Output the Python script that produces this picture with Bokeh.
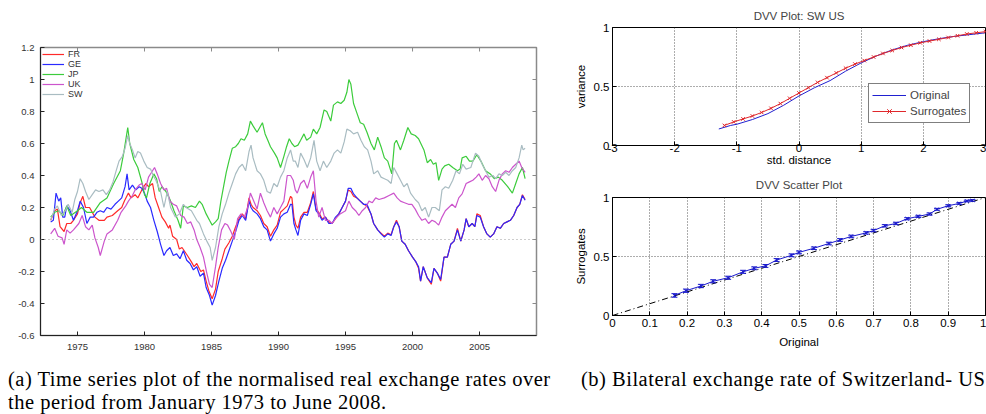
from bokeh.plotting import figure
from bokeh.layouts import row, column
from bokeh.models import (FixedTicker, Legend, LegendItem, Div, Range1d, Span)
from bokeh.embed import file_html
from bokeh.resources import INLINE

# ---------------- (a) normalised real exchange rates ----------------
fr_year = [1973.0, 1973.3, 1973.5, 1973.7, 1974.0, 1974.2, 1974.5, 1974.7, 1975.0, 1975.2, 1975.4, 1975.6,
           1975.9, 1976.1, 1976.3, 1976.6, 1977.0, 1977.2, 1977.6, 1978.0, 1978.3, 1978.5, 1978.8, 1979.0,
           1979.3, 1979.5, 1979.8, 1980.1, 1980.3, 1980.6, 1980.8, 1981.05, 1981.3, 1981.55, 1981.8, 1981.9,
           1982.1, 1982.4, 1982.6, 1982.8, 1983.2, 1983.5, 1983.7, 1983.9, 1984.2, 1984.4, 1984.6, 1984.8,
           1985.05, 1985.3, 1985.5, 1985.8, 1986.0, 1986.3, 1986.55, 1986.8, 1987.05, 1987.3, 1987.55, 1987.8,
           1987.95, 1988.1, 1988.4, 1988.65, 1988.9, 1989.15, 1989.4, 1989.65, 1989.9, 1990.15, 1990.4, 1990.65,
           1990.9, 1991.0, 1991.15, 1991.3, 1991.45, 1991.65, 1991.9, 1992.15, 1992.4, 1992.6, 1992.8, 1993.0,
           1993.25, 1993.5, 1993.75, 1994.0, 1994.25, 1994.5, 1994.75, 1995.0, 1995.2, 1995.4, 1995.6, 1995.85,
           1996.1, 1996.35, 1996.6, 1996.9, 1997.1, 1997.4, 1997.65, 1997.9, 1998.15, 1998.4, 1998.6, 1998.8,
           1999.0, 1999.2, 1999.45, 1999.7, 2000.0, 2000.25, 2000.45, 2000.6, 2000.8, 2001.1, 2001.4, 2001.6,
           2001.85, 2002.1, 2002.35, 2002.6, 2002.85, 2003.1, 2003.35, 2003.6, 2003.85, 2004.0, 2004.2, 2004.45,
           2004.65, 2004.8, 2005.05, 2005.3, 2005.55, 2005.8, 2006.05, 2006.3, 2006.55, 2006.8, 2007.05, 2007.3,
           2007.55, 2007.8, 2008.0, 2008.2, 2008.4]
fr_value = [0.12, 0.18, 0.19, 0.08, 0.05, 0.10, 0.10, 0.12, 0.16, 0.23, 0.27, 0.20,
            0.20, 0.17, 0.14, 0.12, 0.12, 0.14, 0.15, 0.18, 0.20, 0.24, 0.29, 0.26,
            0.28, 0.26, 0.31, 0.35, 0.33, 0.35, 0.26, 0.20, 0.14, 0.11, 0.07, 0.09,
            0.02, 0.00, -0.06, -0.05, -0.10, -0.14, -0.17, -0.15, -0.20, -0.19, -0.26, -0.32,
            -0.37, -0.31, -0.20, -0.12, -0.06, -0.02, 0.02, 0.08, 0.13, 0.16, 0.13, 0.26,
            0.22, 0.20, 0.18, 0.15, 0.10, 0.08, 0.02, 0.06, 0.09, 0.17, 0.19, 0.21,
            0.27, 0.26, 0.14, 0.09, 0.07, 0.14, 0.17, 0.17, 0.23, 0.30, 0.19, 0.17,
            0.13, 0.14, 0.11, 0.10, 0.13, 0.16, 0.20, 0.24, 0.31, 0.30, 0.27, 0.26,
            0.24, 0.22, 0.21, 0.16, 0.10, 0.06, 0.04, 0.02, 0.04, 0.03, 0.08, 0.12,
            0.08, -0.01, -0.03, -0.07, -0.11, -0.14, -0.18, -0.26, -0.17, -0.24, -0.28, -0.18,
            -0.21, -0.26, -0.11, -0.11, -0.03, -0.01, 0.07, -0.01, 0.06, 0.13, 0.08, 0.10,
            0.08, 0.16, 0.15, 0.08, 0.035, 0.015, 0.035, 0.08, 0.07, 0.10, 0.11, 0.12,
            0.15, 0.20, 0.22, 0.28, 0.25]

ge_year = [1973.0, 1973.2, 1973.4, 1973.6, 1973.75, 1973.9, 1974.05, 1974.2, 1974.45, 1974.7, 1975.0, 1975.2,
           1975.45, 1975.7, 1975.95, 1976.2, 1976.45, 1976.7, 1976.95, 1977.2, 1977.5, 1977.8, 1978.05, 1978.3,
           1978.55, 1978.7, 1978.85, 1979.1, 1979.35, 1979.6, 1979.8, 1980.0, 1980.2, 1980.45, 1980.7, 1980.95,
           1981.2, 1981.45, 1981.65, 1981.9, 1982.15, 1982.4, 1982.65, 1982.9, 1983.15, 1983.4, 1983.65, 1983.9,
           1984.15, 1984.4, 1984.6, 1984.85, 1985.05, 1985.3, 1985.55, 1985.8, 1986.05, 1986.3, 1986.55, 1986.8,
           1987.05, 1987.3, 1987.55, 1987.8, 1987.95, 1988.1, 1988.4, 1988.65, 1988.9, 1989.15, 1989.4, 1989.65,
           1989.9, 1990.15, 1990.4, 1990.65, 1990.9, 1991.0, 1991.15, 1991.3, 1991.45, 1991.65, 1991.9, 1992.15,
           1992.4, 1992.6, 1992.8, 1993.0, 1993.25, 1993.5, 1993.75, 1994.0, 1994.25, 1994.5, 1994.75, 1995.0,
           1995.2, 1995.4, 1995.6, 1995.85, 1996.1, 1996.35, 1996.6, 1996.9, 1997.1, 1997.4, 1997.65, 1997.9,
           1998.15, 1998.4, 1998.6, 1998.8, 1999.0, 1999.2, 1999.45, 1999.7, 2000.0, 2000.25, 2000.45, 2000.6,
           2000.8, 2001.1, 2001.4, 2001.6, 2001.85, 2002.1, 2002.35, 2002.6, 2002.85, 2003.1, 2003.35, 2003.6,
           2003.85, 2004.0, 2004.2, 2004.45, 2004.65, 2004.8, 2005.05, 2005.3, 2005.55, 2005.8, 2006.05, 2006.3,
           2006.55, 2006.8, 2007.05, 2007.3, 2007.55, 2007.8, 2008.0, 2008.2, 2008.4]
ge_value = [0.11, 0.12, 0.29, 0.24, 0.26, 0.14, 0.14, 0.21, 0.18, 0.12, 0.18, 0.24,
            0.20, 0.10, 0.14, 0.14, 0.17, 0.18, 0.17, 0.20, 0.19, 0.22, 0.24, 0.26,
            0.33, 0.41, 0.31, 0.34, 0.31, 0.33, 0.32, 0.29, 0.24, 0.20, 0.12, 0.05,
            -0.03, -0.10, -0.07, -0.05, -0.10, -0.09, -0.12, -0.07, -0.13, -0.15, -0.19, -0.17,
            -0.23, -0.21, -0.30, -0.35, -0.41, -0.35, -0.26, -0.18, -0.13, -0.07, -0.01, 0.05,
            0.12, 0.15, 0.12, 0.24, 0.20, 0.18, 0.16, 0.13, 0.08, 0.06, -0.01, 0.035,
            0.07, 0.14, 0.16, 0.17, 0.22, 0.22, 0.10, 0.06, 0.025, 0.12, 0.16, 0.15,
            0.22, 0.285, 0.18, 0.16, 0.12, 0.14, 0.10, 0.10, 0.14, 0.16, 0.20, 0.24,
            0.32, 0.32, 0.285, 0.26, 0.24, 0.22, 0.22, 0.16, 0.10, 0.06, 0.035, 0.015,
            0.035, 0.025, 0.08, 0.11, 0.08, -0.01, -0.03, -0.07, -0.11, -0.14, -0.17, -0.26,
            -0.17, -0.24, -0.27, -0.18, -0.21, -0.25, -0.11, -0.11, -0.03, -0.01, 0.06, -0.01,
            0.06, 0.13, 0.08, 0.10, 0.08, 0.15, 0.14, 0.08, 0.035, 0.015, 0.035, 0.08,
            0.07, 0.10, 0.11, 0.12, 0.15, 0.20, 0.22, 0.275, 0.245]

jp_year = [1973.0, 1973.3, 1973.6, 1973.9, 1974.2, 1974.5, 1975.0, 1975.3, 1975.7, 1976.2, 1976.7, 1977.2,
           1977.7, 1978.2, 1978.45, 1978.6, 1978.75, 1978.9, 1979.2, 1979.5, 1979.8, 1980.0, 1980.15, 1980.4,
           1980.7, 1980.9, 1981.1, 1981.3, 1981.6, 1981.9, 1982.2, 1982.5, 1982.7, 1982.9, 1983.2, 1983.5,
           1983.8, 1984.1, 1984.3, 1984.6, 1984.85, 1985.05, 1985.3, 1985.5, 1985.7, 1985.9, 1986.1, 1986.3,
           1986.55, 1986.8, 1987.0, 1987.2, 1987.45, 1987.7, 1987.9, 1988.1, 1988.4, 1988.6, 1988.8, 1989.0,
           1989.2, 1989.4, 1989.7, 1989.9, 1990.15, 1990.4, 1990.6, 1990.8, 1991.0, 1991.2, 1991.45, 1991.65,
           1991.9, 1992.1, 1992.4, 1992.6, 1992.85, 1993.1, 1993.4, 1993.6, 1993.9, 1994.1, 1994.4, 1994.65,
           1994.9, 1995.1, 1995.25, 1995.4, 1995.6, 1995.85, 1996.1, 1996.35, 1996.6, 1996.9, 1997.15, 1997.4,
           1997.65, 1997.9, 1998.15, 1998.45, 1998.65, 1998.8, 1999.1, 1999.35, 1999.65, 1999.9, 2000.2, 2000.45,
           2000.85, 2001.1, 2001.35, 2001.55, 2001.75, 2001.95, 2002.2, 2002.4, 2002.7, 2003.0, 2003.35, 2003.55,
           2003.7, 2004.0, 2004.25, 2004.5, 2004.8, 2005.1, 2005.45, 2005.8, 2006.1, 2006.4, 2006.7, 2007.1,
           2007.45, 2007.7, 2007.95, 2008.2, 2008.4]
jp_value = [0.14, 0.17, 0.18, 0.15, 0.21, 0.15, 0.18, 0.20, 0.17, 0.17, 0.23, 0.26,
            0.35, 0.43, 0.54, 0.62, 0.70, 0.60, 0.50, 0.45, 0.36, 0.28, 0.26, 0.35,
            0.41, 0.38, 0.30, 0.33, 0.30, 0.25, 0.18, 0.12, 0.07, 0.21, 0.20, 0.21,
            0.20, 0.24, 0.22, 0.16, 0.12, 0.09, 0.11, 0.13, 0.24, 0.33, 0.42, 0.49,
            0.57, 0.58, 0.60, 0.63, 0.62, 0.66, 0.74, 0.71, 0.67, 0.70, 0.73, 0.66,
            0.62, 0.58, 0.54, 0.51, 0.45, 0.52, 0.58, 0.63, 0.60, 0.58, 0.59, 0.62,
            0.66, 0.62, 0.64, 0.69, 0.66, 0.70, 0.81, 0.80, 0.74, 0.84, 0.86, 0.85,
            0.87, 0.92, 1.00, 0.97, 0.85, 0.79, 0.73, 0.72, 0.67, 0.60, 0.56, 0.64,
            0.58, 0.51, 0.49, 0.41, 0.60, 0.62, 0.56, 0.62, 0.70, 0.66, 0.65, 0.63,
            0.56, 0.48, 0.50, 0.47, 0.48, 0.37, 0.44, 0.46, 0.47, 0.45, 0.43, 0.44,
            0.51, 0.52, 0.49, 0.49, 0.53, 0.49, 0.43, 0.41, 0.38, 0.39, 0.37, 0.33,
            0.29, 0.35, 0.41, 0.45, 0.38]

uk_year = [1973.0, 1973.3, 1973.55, 1973.85, 1974.0, 1974.2, 1974.45, 1974.7, 1975.1, 1975.35, 1975.6, 1975.85,
           1976.1, 1976.3, 1976.55, 1976.7, 1977.0, 1977.2, 1977.6, 1978.0, 1978.25, 1978.6, 1978.8, 1979.1,
           1979.3, 1979.6, 1979.8, 1980.05, 1980.3, 1980.6, 1980.75, 1980.95, 1981.2, 1981.45, 1981.65, 1981.9,
           1982.15, 1982.4, 1982.7, 1982.95, 1983.2, 1983.45, 1983.7, 1983.9, 1984.15, 1984.4, 1984.65, 1984.85,
           1985.05, 1985.3, 1985.5, 1985.75, 1986.0, 1986.2, 1986.45, 1986.7, 1986.95, 1987.2, 1987.45, 1987.7,
           1987.9, 1988.15, 1988.4, 1988.65, 1988.9, 1989.15, 1989.4, 1989.65, 1989.9, 1990.15, 1990.4, 1990.65,
           1990.9, 1991.1, 1991.25, 1991.4, 1991.65, 1991.9, 1992.15, 1992.4, 1992.6, 1992.8, 1993.0, 1993.25,
           1993.5, 1993.75, 1994.0, 1994.25, 1994.6, 1995.0, 1995.25, 1995.5, 1995.75, 1996.0, 1996.25, 1996.5,
           1996.75, 1997.0, 1997.25, 1997.5, 1997.9, 1998.25, 1998.6, 1998.85, 1999.1, 1999.4, 1999.7, 1999.95,
           2000.2, 2000.45, 2000.7, 2000.95, 2001.2, 2001.45, 2001.7, 2001.95, 2002.2, 2002.45, 2002.7, 2002.95,
           2003.2, 2003.45, 2003.7, 2004.0, 2004.25, 2004.5, 2004.75, 2004.95, 2005.2, 2005.45, 2005.7, 2005.95,
           2006.2, 2006.45, 2006.7, 2006.95, 2007.2, 2007.45, 2007.7, 2007.95, 2008.15, 2008.4]
uk_value = [0.035, 0.07, 0.02, 0.01, -0.03, 0.06, 0.04, 0.06, 0.10, 0.15, 0.08, 0.06,
            0.09, 0.01, -0.05, -0.10, -0.01, 0.035, 0.06, 0.12, 0.17, 0.21, 0.24, 0.275,
            0.31, 0.34, 0.35, 0.31, 0.39, 0.43, 0.45, 0.41, 0.35, 0.31, 0.32, 0.24,
            0.22, 0.21, 0.15, 0.14, 0.10, 0.11, 0.06, 0.00, -0.05, -0.11, -0.21, -0.28,
            -0.30, -0.17, -0.05, 0.06, 0.10, 0.09, 0.05, 0.00, 0.13, 0.16, 0.14, 0.20,
            0.29, 0.24, 0.19, 0.29, 0.23, 0.18, 0.14, 0.20, 0.16, 0.20, 0.24, 0.40,
            0.40, 0.37, 0.31, 0.29, 0.35, 0.37, 0.32, 0.39, 0.43, 0.24, 0.14, 0.20,
            0.12, 0.12, 0.10, 0.13, 0.16, 0.18, 0.24, 0.20, 0.18, 0.15, 0.18, 0.20,
            0.24, 0.23, 0.26, 0.25, 0.26, 0.275, 0.29, 0.26, 0.24, 0.23, 0.22, 0.22,
            0.19, 0.15, 0.12, 0.13, 0.10, 0.12, 0.11, 0.09, 0.14, 0.18, 0.20, 0.22,
            0.20, 0.26, 0.285, 0.35, 0.36, 0.37, 0.39, 0.41, 0.37, 0.40, 0.38, 0.33,
            0.30, 0.37, 0.41, 0.43, 0.42, 0.45, 0.47, 0.49, 0.45, 0.42]

sw_year = [1973.0, 1973.3, 1973.5, 1973.8, 1974.1, 1974.3, 1974.6, 1974.8, 1975.0, 1975.2, 1975.4, 1975.6,
           1975.85, 1976.1, 1976.35, 1976.6, 1976.9, 1977.15, 1977.4, 1977.65, 1977.85, 1978.1, 1978.35, 1978.55,
           1978.75, 1978.9, 1979.1, 1979.3, 1979.5, 1979.7, 1979.95, 1980.2, 1980.45, 1980.65, 1980.85, 1981.05,
           1981.2, 1981.45, 1981.7, 1981.95, 1982.3, 1982.6, 1982.9, 1983.1, 1983.5, 1983.9, 1984.1, 1984.4,
           1984.65, 1984.9, 1985.05, 1985.3, 1985.55, 1985.8, 1986.05, 1986.3, 1986.55, 1986.8, 1987.05, 1987.3,
           1987.55, 1987.8, 1987.95, 1988.1, 1988.4, 1988.65, 1988.9, 1989.15, 1989.4, 1989.65, 1989.9, 1990.15,
           1990.4, 1990.65, 1990.9, 1991.1, 1991.25, 1991.45, 1991.65, 1991.9, 1992.15, 1992.4, 1992.65, 1992.85,
           1993.1, 1993.35, 1993.6, 1993.9, 1994.15, 1994.4, 1994.65, 1994.9, 1995.1, 1995.35, 1995.6, 1995.9,
           1996.15, 1996.4, 1996.65, 1996.9, 1997.1, 1997.4, 1997.65, 1997.9, 1998.15, 1998.4, 1998.6, 1998.85,
           1999.1, 1999.35, 1999.6, 1999.85, 2000.2, 2000.45, 2000.7, 2000.95, 2001.2, 2001.45, 2001.7, 2002.0,
           2002.2, 2002.45, 2002.7, 2003.0, 2003.25, 2003.5, 2003.75, 2004.0, 2004.35, 2004.7, 2004.95, 2005.2,
           2005.45, 2005.7, 2006.0, 2006.2, 2006.45, 2006.7, 2006.95, 2007.2, 2007.45, 2007.7, 2007.95, 2008.15,
           2008.25, 2008.4]
sw_value = [0.12, 0.19, 0.21, 0.15, 0.18, 0.22, 0.17, 0.25, 0.30, 0.38, 0.35, 0.30,
            0.25, 0.28, 0.31, 0.30, 0.31, 0.28, 0.31, 0.36, 0.42, 0.49, 0.52, 0.57,
            0.65, 0.60, 0.56, 0.51, 0.55, 0.54, 0.49, 0.45, 0.44, 0.40, 0.37, 0.33,
            0.30, 0.20, 0.30, 0.20, 0.14, 0.16, 0.22, 0.20, 0.18, 0.12, 0.10, 0.035,
            -0.01, -0.05, -0.13, -0.05, 0.08, 0.16, 0.22, 0.29, 0.35, 0.41, 0.45, 0.47,
            0.43, 0.55, 0.59, 0.51, 0.43, 0.41, 0.37, 0.30, 0.29, 0.35, 0.33, 0.39,
            0.43, 0.51, 0.56, 0.49, 0.49, 0.45, 0.54, 0.50, 0.45, 0.51, 0.62, 0.49,
            0.43, 0.49, 0.45, 0.49, 0.54, 0.56, 0.54, 0.61, 0.69, 0.68, 0.66, 0.67,
            0.62, 0.58, 0.56, 0.49, 0.41, 0.43, 0.39, 0.38, 0.37, 0.35, 0.45, 0.41,
            0.37, 0.33, 0.35, 0.29, 0.25, 0.23, 0.18, 0.20, 0.14, 0.20, 0.20, 0.18,
            0.31, 0.33, 0.32, 0.37, 0.43, 0.41, 0.47, 0.44, 0.45, 0.54, 0.52, 0.47,
            0.43, 0.39, 0.40, 0.38, 0.41, 0.40, 0.42, 0.40, 0.43, 0.45, 0.51, 0.59,
            0.56, 0.57]

series_names = ["FR", "GE", "JP", "UK", "SW"]
series_colors = ["#ff2a2a", "#2a2aff", "#3ccc3c", "#cc55cc", "#a9bcc2"]

ts_xmin, ts_xmax = 1972.24, 2009.25
ts_ymin, ts_ymax = -0.6, 1.2
ts_yticks = [-0.6, -0.4, -0.2, 0.0, 0.2, 0.4, 0.6, 0.8, 1.0, 1.2]
ts_ylabels = ["-0.6", "-0.4", "-0.2", "0", "0.2", "0.4", "0.6", "0.8", "1", "1.2"]
ts_xticks = [1975, 1980, 1985, 1990, 1995, 2000, 2005]

# ---------------- (b) DVV plots ----------------
dvv_orig_x = [-1.29, -1.1, -1.0, -0.75, -0.5, -0.25, 0.0, 0.25, 0.5, 0.75, 1.0, 1.25, 1.5, 1.75, 2.0,
              2.25, 2.5, 2.75, 3.0]
dvv_orig_y = [0.14, 0.17, 0.18, 0.22, 0.27, 0.34, 0.42, 0.49, 0.55, 0.63, 0.70, 0.76, 0.81, 0.85, 0.88,
              0.905, 0.925, 0.94, 0.955]
dvv_surr_x = [-1.2, -1.05, -0.9, -0.75, -0.6, -0.45, -0.3, -0.15, 0.0, 0.15, 0.3, 0.45, 0.6, 0.75, 0.9,
              1.05, 1.2, 1.35, 1.5, 1.65, 1.8, 1.95, 2.1, 2.25, 2.4, 2.55, 2.7, 2.85, 3.0]
dvv_surr_y = [0.17, 0.20, 0.225, 0.25, 0.28, 0.315, 0.355, 0.40, 0.445, 0.49, 0.535, 0.575, 0.615, 0.655,
              0.69, 0.72, 0.75, 0.78, 0.805, 0.83, 0.85, 0.87, 0.885, 0.90, 0.915, 0.93, 0.945, 0.955, 0.965]

sc_orig = [0.166, 0.197, 0.237, 0.27, 0.31, 0.35, 0.38, 0.41, 0.44, 0.48, 0.50, 0.54, 0.58, 0.61, 0.64,
           0.68, 0.70, 0.73, 0.76, 0.79, 0.82, 0.85, 0.87, 0.90, 0.93, 0.95, 0.965]
sc_surr = [0.17, 0.21, 0.25, 0.29, 0.32, 0.37, 0.40, 0.42, 0.47, 0.51, 0.535, 0.57, 0.61, 0.64, 0.67,
           0.70, 0.72, 0.76, 0.78, 0.82, 0.84, 0.86, 0.90, 0.93, 0.95, 0.97, 0.975]
sc_err = [0.015, 0.014, 0.014, 0.013, 0.013, 0.013, 0.012, 0.012, 0.012, 0.012, 0.012, 0.011, 0.011, 0.011,
          0.011, 0.010, 0.010, 0.010, 0.010, 0.009, 0.009, 0.009, 0.008, 0.008, 0.008, 0.007, 0.007]
diag_x = [0.0, 1.0]
diag_y = [0.0, 1.0]

dvv_xticks = [-3, -2, -1, 0, 1, 2, 3]
dvv_yticks = [0, 0.5, 1]
sc_xticks = [0, 0.1, 0.2, 0.3, 0.4, 0.5, 0.6, 0.7, 0.8, 0.9, 1]

caption_a = "(a) Time series plot of the normalised real exchange rates over<br>the period from January 1973 to June 2008."
caption_b = "(b) Bilateral exchange rate of Switzerland- US"

# ============ figure (a) ============
TS_FONT = "Liberation Sans"
FRAME_GRAY = "#8a8a8a"
p1 = figure(width=560, height=360, x_range=Range1d(ts_xmin, ts_xmax), y_range=Range1d(ts_ymin, ts_ymax),
            output_backend="svg", toolbar_location=None,
            min_border_left=40, min_border_right=24, min_border_top=47, min_border_bottom=25)
p1.grid.visible = False
p1.outline_line_color = FRAME_GRAY
p1.outline_line_width = 1.5

def style_ts_axis(ax, ticks, overrides=None):
    ax.ticker = FixedTicker(ticks=ticks)
    if overrides:
        ax.major_label_overrides = overrides
    ax.axis_line_color = "#222222"
    ax.major_tick_line_color = "#222222"
    ax.major_tick_in = 4
    ax.major_tick_out = 0
    ax.minor_tick_line_color = None
    ax.major_label_text_font = TS_FONT
    ax.major_label_text_color = "#333333"
    ax.major_label_text_font_size = "9.5px"

style_ts_axis(p1.xaxis[0], ts_xticks)
p1.xaxis[0].major_label_standoff = 8
style_ts_axis(p1.yaxis[0], ts_yticks, dict(zip(ts_yticks, ts_ylabels)))
p1.yaxis[0].major_label_standoff = 6

# mirrored inward ticks on the top and right frame edges (4 px long)
tick_dy = 4 * (ts_ymax - ts_ymin) / 288
tick_dx = 4 * (ts_xmax - ts_xmin) / 496
p1.segment(x0=ts_xticks, y0=[ts_ymax] * len(ts_xticks), x1=ts_xticks,
           y1=[ts_ymax - tick_dy] * len(ts_xticks), line_color=FRAME_GRAY, line_width=1)
p1.segment(x0=[ts_xmax] * len(ts_yticks), y0=ts_yticks, x1=[ts_xmax - tick_dx] * len(ts_yticks),
           y1=ts_yticks, line_color=FRAME_GRAY, line_width=1)

p1.add_layout(Span(location=0, dimension="width", line_color="#9a9a9a", line_dash="1 3", line_width=1))

renderers = []
for name, color, xs, ys in zip(series_names, series_colors,
                               [fr_year, ge_year, jp_year, uk_year, sw_year],
                               [fr_value, ge_value, jp_value, uk_value, sw_value]):
    r = p1.line(xs, ys, line_color=color, line_width=1.2)
    renderers.append(r)

leg1 = Legend(items=[LegendItem(label=n, renderers=[r]) for n, r in zip(series_names, renderers)],
              location="top_left", border_line_color=None, background_fill_alpha=0,
              label_text_font=TS_FONT, label_text_font_size="9px", label_text_color="#333333",
              glyph_width=22, glyph_height=10, label_height=10, spacing=0, padding=2, margin=2,
              label_standoff=4)
p1.add_layout(leg1)

# ============ figure (b) top ============
B_FONT = "Liberation Sans"

def style_b_axis(ax, ticks, label_standoff, label=None, label_standoff_axis=0):
    ax.ticker = FixedTicker(ticks=ticks)
    ax.major_label_overrides = {t: ("%g" % t) for t in ticks}
    ax.axis_line_color = "black"
    ax.major_tick_line_color = "black"
    ax.major_tick_in = 4
    ax.major_tick_out = 0
    ax.minor_tick_line_color = None
    ax.major_label_text_font = B_FONT
    ax.major_label_text_font_size = "11.5px"
    ax.major_label_text_color = "black"
    ax.major_label_standoff = label_standoff
    if label:
        ax.axis_label = label
        ax.axis_label_text_font = B_FONT
        ax.axis_label_text_font_size = "11.5px"
        ax.axis_label_text_font_style = "normal"
        ax.axis_label_text_color = "black"
        ax.axis_label_standoff = label_standoff_axis

def style_b_fig(p, title_standoff):
    p.outline_line_color = "black"
    p.title.text_font = B_FONT
    p.title.text_font_size = "11.5px"
    p.title.text_font_style = "normal"
    p.title.align = "center"
    p.title.standoff = title_standoff
    p.grid.grid_line_color = "#333333"
    p.grid.grid_line_dash = "1 2"
    p.grid.grid_line_alpha = 0.8

p2 = figure(width=426, height=170, x_range=Range1d(-3, 3), y_range=Range1d(0, 1),
            title="DVV Plot: SW US", output_backend="svg", toolbar_location=None,
            min_border_left=52, min_border_right=1, min_border_top=27, min_border_bottom=25)
style_b_fig(p2, 12)
style_b_axis(p2.xaxis[0], dvv_xticks, -2, "std. distance", -1)
style_b_axis(p2.yaxis[0], dvv_yticks, 3, "variance", 4)
p2.xgrid.ticker = FixedTicker(ticks=dvv_xticks)
p2.ygrid.ticker = FixedTicker(ticks=dvv_yticks)

r_orig = p2.line(dvv_orig_x, dvv_orig_y, line_color="#2020d0", line_width=1)
r_surr_l = p2.line(dvv_surr_x, dvv_surr_y, line_color="#e0282c", line_width=1)
r_surr_m = p2.scatter(dvv_surr_x, dvv_surr_y, marker="x", size=5, line_color="#e0282c", line_width=1)
leg2 = Legend(items=[LegendItem(label="Original", renderers=[r_orig]),
                     LegendItem(label="Surrogates", renderers=[r_surr_l, r_surr_m])],
              location=(256, 22), border_line_color="black", border_line_width=1,
              background_fill_color="white", background_fill_alpha=1,
              label_text_font=B_FONT, label_text_font_size="11.5px",
              glyph_width=34, glyph_height=16, label_height=16, spacing=0, padding=3, margin=0,
              label_standoff=4)
p2.add_layout(leg2)

# ============ figure (b) bottom ============
p3 = figure(width=426, height=190, x_range=Range1d(0, 1), y_range=Range1d(0, 1),
            title="DVV Scatter Plot", output_backend="svg", toolbar_location=None,
            min_border_left=52, min_border_right=1, min_border_top=27, min_border_bottom=45)
style_b_fig(p3, 13)
style_b_axis(p3.xaxis[0], sc_xticks, 3, "Original", 6)
style_b_axis(p3.yaxis[0], dvv_yticks, 3, "Surrogates", 4)
p3.xgrid.ticker = FixedTicker(ticks=sc_xticks)
p3.ygrid.ticker = FixedTicker(ticks=dvv_yticks)

p3.line(diag_x, diag_y, line_color="black", line_dash="6 3 1 3", line_width=1)
lo = [s - e for s, e in zip(sc_surr, sc_err)]
hi = [s + e for s, e in zip(sc_surr, sc_err)]
p3.segment(x0=sc_orig, y0=lo, x1=sc_orig, y1=hi, line_color="#1a1acc", line_width=1)
p3.scatter(sc_orig, lo, marker="dash", size=6, line_color="#1a1acc")
p3.scatter(sc_orig, hi, marker="dash", size=6, line_color="#1a1acc")
p3.line(sc_orig, sc_surr, line_color="#1a1acc", line_width=1)
p3.scatter(sc_orig, sc_surr, marker="x", size=5, line_color="#1a1acc", line_width=1)

# ============ captions ============
cap_style = ("font-family:'Liberation Serif','Times New Roman',serif;font-size:20.5px;"
             "letter-spacing:0.5px;line-height:23px;color:#000;white-space:nowrap;padding-top:8px;")
div_a = Div(text='<div style="%s;padding-left:8px;">%s</div>' % (cap_style, caption_a), width=581, height=54,
            margin=(0, 0, 0, 0))
div_b = Div(text='<div style="%s">%s</div>' % (cap_style, caption_b), width=405, height=54,
            margin=(0, 0, 0, 0))

layout = column(row(p1, column(p2, p3)), row(div_a, div_b))

with open("out.html", "w") as f:
    f.write(file_html(layout, INLINE))
